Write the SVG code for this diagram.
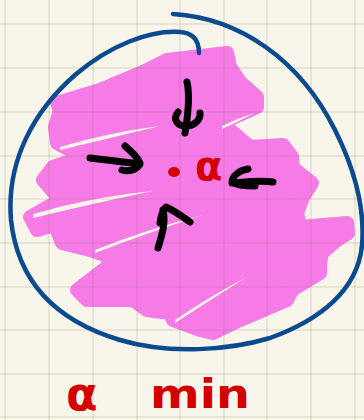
<svg xmlns="http://www.w3.org/2000/svg" width="364" height="420" viewBox="0 0 364 420">
<style>
.grid line{stroke:#7a7058;stroke-opacity:0.13;stroke-width:2}
.ink{fill:none;stroke:#000;stroke-width:7;stroke-linecap:round;stroke-linejoin:round}
.blue{fill:none;stroke:#0b4a8f;stroke-width:4.5;stroke-linecap:round;stroke-linejoin:round}
.red{fill:#d40000;font-family:"DejaVu Sans",sans-serif;font-weight:bold}
.streak{fill:#f8f6ea}
</style>
<rect width="364" height="420" fill="#f8f6ea"/>
<g id="scribble">
<path fill="#f67be7" d="M57,103 L100,90 L143,72 L167,60 L227,53 L230,67 L240,82 L257,97 L257,107 L222,123 L250,147 L283,145 L292,157 L293,168 L312,183 L303,197 L297,213 L300,227 L347,223 L348,233 L337,240 L322,253 L320,263 L320,273 L292,290 L287,300 L240,320 L213,333 L200,330 L173,320 L170,313 L147,310 L133,300 L87,300 L77,290 L107,267 L110,257 L90,250 L62,243 L58,233 L83,217 L37,230 L30,217 L60,200 L43,180 L53,167 L83,157 L57,143 L55,127 L60,110 Z" stroke="#f67be7" stroke-width="14" stroke-linejoin="round"/>
<path class="streak" d="M60,147 Q110,132 160,126 Q110,138 60,150 Z"/>
<path class="streak" d="M33,214 Q95,196 153,191 Q95,203 33,218 Z"/>
<path class="streak" d="M95,250 Q150,228 203,215 Q150,232 95,253 Z"/>
<path class="streak" d="M175,320 Q210,296 247,277 Q210,300 175,323 Z"/>
<path class="streak" d="M222,126 Q238,118 254,113 Q238,122 222,129 Z"/>
</g>
<g class="grid">
<line x1="5" y1="0" x2="5" y2="420"/><line x1="49" y1="0" x2="49" y2="420"/><line x1="93" y1="0" x2="93" y2="420"/><line x1="137" y1="0" x2="137" y2="420"/><line x1="180" y1="0" x2="180" y2="420"/><line x1="224" y1="0" x2="224" y2="420"/><line x1="267" y1="0" x2="267" y2="420"/><line x1="311" y1="0" x2="311" y2="420"/><line x1="355" y1="0" x2="355" y2="420"/>
<line x1="0" y1="24" x2="364" y2="24"/><line x1="0" y1="68" x2="364" y2="68"/><line x1="0" y1="112" x2="364" y2="112"/><line x1="0" y1="156" x2="364" y2="156"/><line x1="0" y1="199" x2="364" y2="199"/><line x1="0" y1="243" x2="364" y2="243"/><line x1="0" y1="287" x2="364" y2="287"/><line x1="0" y1="330" x2="364" y2="330"/><line x1="0" y1="374" x2="364" y2="374"/><line x1="0" y1="417" x2="364" y2="417"/>
</g>
<g id="boundary">
<path class="blue" d="M173,14 C240,18 300,60 335,130 C355,170 365,210 362,245 C358,290 320,320 270,338 C230,350 170,355 120,340 C60,322 18,285 11,220 C6,160 35,110 75,75 C110,45 150,30 180,32 C195,33 199,42 199,53"/>
</g>
<g id="arrows">
<path class="ink" d="M187,82 C190,95 188,115 185,133 M178,112 C172,120 178,127 188,126 C196,125 201,118 200,113"/>
<path class="ink" d="M90,158 C105,160 125,162 140,164 M125,146 C132,152 138,158 140,163 C138,170 128,172 122,170"/>
<path class="ink" d="M273,182 C260,180 245,182 232,183 M248,169 C240,170 232,176 232,182 C238,186 248,186 255,186"/>
<path class="ink" d="M158,248 C162,235 166,222 163,210 M160,223 C161,215 163,210 166,207 C175,211 183,217 190,222"/>
</g>
<g id="point">
<ellipse cx="174" cy="172" rx="6" ry="5" fill="#d40000"/>
<text class="red" x="195" y="180" font-size="40">α</text>
</g>
<g id="label">
<text class="red" x="66" y="410" font-size="46">α</text>
<text class="red" x="150" y="408" font-size="40" textLength="100" lengthAdjust="spacingAndGlyphs">min</text>
</g>
</svg>
